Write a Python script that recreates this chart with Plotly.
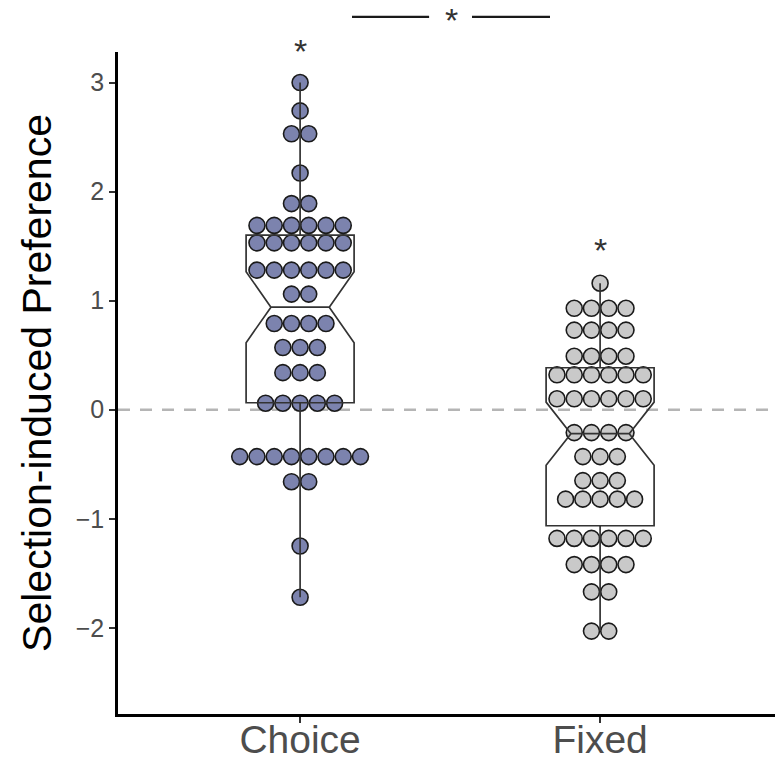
import plotly.graph_objects as go
from collections import Counter

# ---------------- data ----------------
categories = ["Choice", "Fixed"]

choice_values = ([3.0] + [2.74] + [2.53] * 2 + [2.17] + [1.89] * 2 + [1.69] * 6 + [1.53] * 6
                 + [1.28] * 6 + [1.06] * 2 + [0.79] * 4 + [0.57] * 3 + [0.34] * 3 + [0.06] * 5
                 + [-0.43] * 8 + [-0.66] * 2 + [-1.25] + [-1.72])
fixed_values = ([1.16] + [0.93] * 4 + [0.73] * 4 + [0.49] * 4 + [0.32] * 6 + [0.10] * 6
                + [-0.21] * 4 + [-0.43] * 3 + [-0.65] * 3 + [-0.82] * 5 + [-1.18] * 6
                + [-1.42] * 4 + [-1.67] * 2 + [-2.03] * 2)

# box statistics
box_q1 = [0.064, -1.064]
box_median = [0.94, -0.22]
box_q3 = [1.60, 0.385]
box_lower = [-1.72, -2.03]
box_upper = [3.0, 1.16]
box_notch = [0.325, 0.29]

group_colors = ["#7C83AE", "#C9C9C9"]
y_ticks = [-2, -1, 0, 1, 2, 3]

# ---------------- layout constants ----------------
DOT_STEP = 0.0575   # horizontal spacing of stacked dots, in x-axis units
X_RANGE = [-0.607, 1.583]
Y_RANGE = [-2.79, 3.28]


def stack(values, center):
    xs, ys = [], []
    counts = Counter(values)
    for v, n in counts.items():
        for i in range(n):
            xs.append(center + (i - (n - 1) / 2) * DOT_STEP)
            ys.append(v)
    return xs, ys


def xpaper(x):
    return (x - X_RANGE[0]) / (X_RANGE[1] - X_RANGE[0])


fig = go.Figure()

for gi, vals in enumerate([choice_values, fixed_values]):
    xs, ys = stack(vals, gi)
    fig.add_trace(go.Scatter(
        x=xs, y=ys, mode="markers", xaxis="x", yaxis="y",
        marker=dict(size=16, color=group_colors[gi],
                    line=dict(color="#1a1a1a", width=1.6)),
        showlegend=False, hoverinfo="skip"))

for gi in range(2):
    fig.add_trace(go.Box(
        x=[gi], q1=[box_q1[gi]], median=[box_median[gi]], q3=[box_q3[gi]],
        lowerfence=[box_lower[gi]], upperfence=[box_upper[gi]],
        notchspan=[box_notch[gi]], notched=True, notchwidth=0.23,
        width=0.36, whiskerwidth=0, boxpoints=False,
        fillcolor="rgba(0,0,0,0)", line=dict(color="#333333", width=1.7),
        xaxis="x", yaxis="y2", showlegend=False, hoverinfo="skip"))

fig.add_shape(type="line", xref="paper", yref="y", x0=0, x1=1, y0=0, y1=0,
              line=dict(color="#B5B5B5", width=2.5, dash="12px,10px"), layer="below")

# significance markers
star_font = dict(size=34, color="#333333")
fig.add_annotation(x=xpaper(0), y=1.002, xref="paper", yref="paper", text="*", showarrow=False,
                   font=star_font, xanchor="center", yanchor="middle")
fig.add_annotation(x=1, y=1.46, xref="x", yref="y", text="*", showarrow=False,
                   font=star_font, xanchor="center", yanchor="middle")
fig.add_annotation(x=xpaper(0.505), y=1.049, xref="paper", yref="paper", text="*", showarrow=False,
                   font=star_font, xanchor="center", yanchor="middle")
for x0, x1 in [(0.173, 0.43), (0.573, 0.833)]:
    fig.add_shape(type="line", xref="paper", yref="paper",
                  x0=xpaper(x0), x1=xpaper(x1),
                  y0=1.053, y1=1.053, line=dict(color="#1a1a1a", width=2.2))

fig.update_layout(
    width=775, height=768,
    margin=dict(l=118, r=0, t=52, b=54, autoexpand=False),
    paper_bgcolor="white", plot_bgcolor="white",
    font=dict(family="Liberation Sans, Arial, sans-serif"),
    xaxis=dict(range=X_RANGE, tickvals=[0, 1], ticktext=categories, automargin=False,
               showgrid=False, zeroline=False, showline=True, linecolor="black",
               linewidth=2.5, ticks="outside", ticklen=6, tickcolor="#333333",
               tickwidth=1.5, ticklabelstandoff=-17,
               tickfont=dict(size=39, color="#4D4D4D")),
    yaxis=dict(range=Y_RANGE, tickvals=y_ticks, automargin=False,
               ticktext=[str(t).replace("-", "\u2212") for t in y_ticks],
               showgrid=False, zeroline=False, showline=True, linecolor="black",
               linewidth=2.5, ticks="outside", ticklen=6, tickcolor="#333333",
               tickwidth=1.5, tickfont=dict(size=25, color="#4D4D4D"),
               title=dict(text="Selection-induced Preference", standoff=12,
                          font=dict(size=41, color="black"))),
    yaxis2=dict(range=Y_RANGE, overlaying="y", visible=False, showgrid=False,
                zeroline=False),
)

fig.write_html("out.html", config={"displayModeBar": False},
               post_script="document.body.style.margin='0';")
